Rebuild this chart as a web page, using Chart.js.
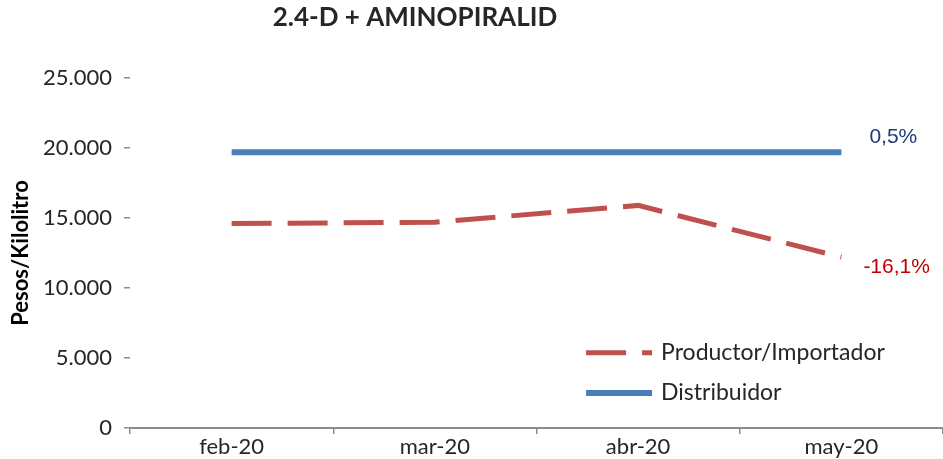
<!DOCTYPE html>
<html>
<head>
<meta charset="utf-8">
<script src="https://cdn.jsdelivr.net/npm/chart.js@4.4.1/dist/chart.umd.min.js"></script>
<style>
    html, body { margin: 0; padding: 0; background: #fff; }
    #wrap { width: 943px; height: 459px; }
</style>
</head>
<body>
<div id="wrap"><canvas id="chart"></canvas></div>
<script>
// --- datos ---
const months = ['feb-20', 'mar-20', 'abr-20', 'may-20'];
const productor = [14600, 14700, 15900, 12200];
const distribuidor = [19700, 19700, 19700, 19700];
const yTicks = [0, 5000, 10000, 15000, 20000, 25000];
const seriesNames = ['Productor/Importador', 'Distribuidor'];
const changeLabels = ['-16,1%', '0,5%'];
const titleText = '2.4-D + AMINOPIRALID';
const yTitle = 'Pesos/Kilolitro';

const FONT = 'Lato, "DejaVu Sans", sans-serif';
const RED = '#C0504D';
const BLUE = '#4A7EBB';

function fmt(v) {
    return String(v).replace(/\B(?=(\d{3})+(?!\d))/g, '.');
}

// titulo, leyenda interna y variaciones
const extras = {
    id: 'extras',
    afterDraw(chart) {
        const ctx = chart.ctx;
        const area = chart.chartArea;
        ctx.save();

        // titulo
        ctx.font = 'bold 26px ' + FONT;
        ctx.fillStyle = '#262626';
        ctx.textAlign = 'center';
        ctx.textBaseline = 'middle';
        ctx.fillText(titleText, chart.width * 0.44, 18);

        // leyenda dentro del grafico
        const lx = area.left + area.width * 0.561;
        const rows = [area.top + area.height * 0.785, area.top + area.height * 0.9];
        chart.data.datasets.forEach((ds, i) => {
            const y = rows[i];
            ctx.strokeStyle = ds.borderColor;
            ctx.lineWidth = ds.borderWidth;
            ctx.setLineDash(ds.borderDash || []);
            ctx.beginPath();
            ctx.moveTo(lx, y);
            ctx.lineTo(lx + 66, y);
            ctx.stroke();
            ctx.setLineDash([]);
            ctx.font = '23px ' + FONT;
            ctx.fillStyle = '#262626';
            ctx.textAlign = 'left';
            ctx.fillText(ds.label, lx + 75, y);
        });

        // etiquetas de variacion al final de cada serie
        ctx.font = '21px "Liberation Sans", Arial, sans-serif';
        ctx.textAlign = 'left';
        chart.data.datasets.forEach((ds, i) => {
            const meta = chart.getDatasetMeta(i);
            const pt = meta.data[meta.data.length - 1];
            if (i === 0) {
                ctx.fillStyle = '#C00000';
                ctx.fillText(changeLabels[i], pt.x + 22, pt.y + 10);
            } else {
                ctx.fillStyle = '#1F3A7A';
                ctx.fillText(changeLabels[i], pt.x + 28, pt.y - 15);
            }
        });
        ctx.restore();
    }
};

new Chart(document.getElementById('chart'), {
    type: 'line',
    data: {
        labels: months,
        datasets: [
            {
                label: seriesNames[0],
                data: productor,
                borderColor: RED,
                backgroundColor: RED,
                borderWidth: 5,
                borderDash: [40, 16],
                pointRadius: 0,
                tension: 0,
                fill: false
            },
            {
                label: seriesNames[1],
                data: distribuidor,
                borderColor: BLUE,
                backgroundColor: BLUE,
                borderWidth: 6,
                pointRadius: 0,
                tension: 0,
                fill: false
            }
        ]
    },
    options: {
        responsive: true,
        maintainAspectRatio: false,
        animation: false,
        layout: { padding: { top: 78, right: 0, left: 0, bottom: 0 } },
        plugins: {
            legend: { display: false },
            title: { display: false },
            tooltip: { enabled: false }
        },
        scales: {
            x: {
                offset: true,
                grid: {
                    offset: true,
                    drawOnChartArea: false,
                    drawTicks: true,
                    tickLength: 6,
                    color: '#8c8c8c',
                    lineWidth: 1.5
                },
                border: { display: true, color: '#8c8c8c', width: 2 },
                ticks: {
                    color: '#262626',
                    font: { family: FONT, size: 22 },
                    padding: 0
                },
                afterFit: s => { s.height = 31; }
            },
            y: {
                min: 0,
                max: 25000,
                afterBuildTicks: s => { s.ticks = yTicks.map(v => ({ value: v })); },
                grid: {
                    drawOnChartArea: false,
                    drawTicks: true,
                    tickLength: 6,
                    color: '#8c8c8c',
                    lineWidth: 1.5
                },
                border: { display: false },
                ticks: {
                    color: '#262626',
                    font: { family: FONT, size: 22 },
                    padding: 12,
                    callback: v => fmt(v)
                },
                title: {
                    display: true,
                    text: yTitle,
                    color: '#000',
                    font: { family: FONT, size: 22, weight: 'bold' },
                    padding: { top: 8, bottom: 0 }
                },
                afterFit: s => { s.width = 130; }
            }
        }
    },
    plugins: [extras]
});
</script>
</body>
</html>
